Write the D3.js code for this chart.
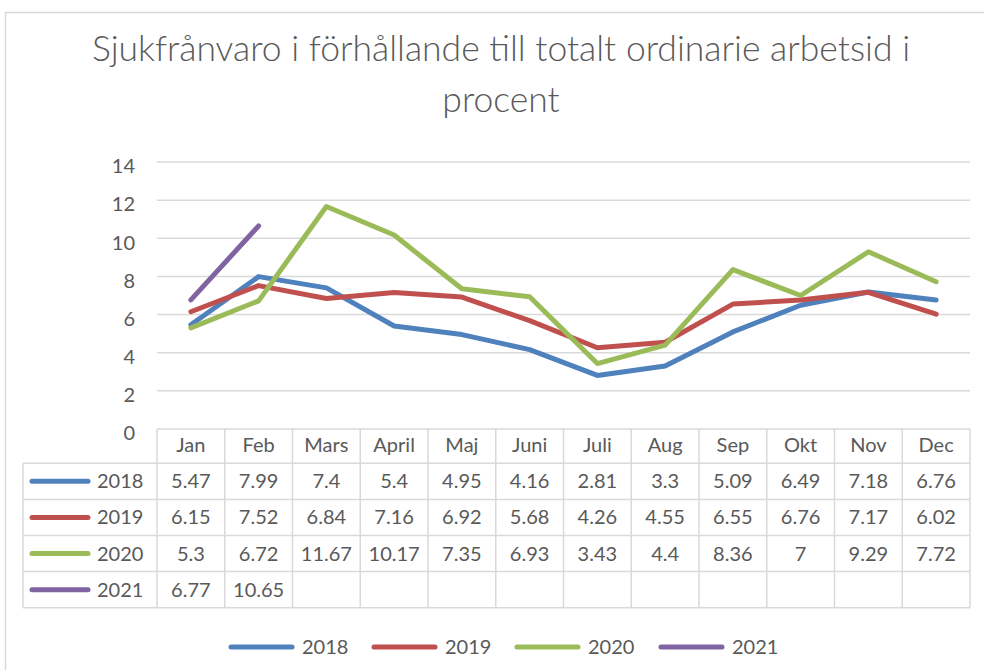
<!DOCTYPE html>
<html><head><meta charset="utf-8">
<script src="https://cdn.jsdelivr.net/npm/d3@7"></script>
<style>body{margin:0;background:#fff}svg{display:block}text{font-family:Lato,"Open Sans",sans-serif;fill:#595959}</style>
</head><body><svg id="c" width="984" height="670"></svg>
<script>
const months = ["Jan","Feb","Mars","April","Maj","Juni","Juli","Aug","Sep","Okt","Nov","Dec"];
const years = ["2018","2019","2020","2021"];
const v2018 = [5.47,7.99,7.4,5.4,4.95,4.16,2.81,3.3,5.09,6.49,7.18,6.76];
const v2019 = [6.15,7.52,6.84,7.16,6.92,5.68,4.26,4.55,6.55,6.76,7.17,6.02];
const v2020 = [5.3,6.72,11.67,10.17,7.35,6.93,3.43,4.4,8.36,7,9.29,7.72];
const v2021 = [6.77,10.65];
const yTicks = [0,2,4,6,8,10,12,14];
const colors = ["#4F81BD","#C0504D","#9BBB59","#8064A2"];
const seriesVals = [v2018,v2019,v2020,v2021];
const titleLines = ["Sjukfrånvaro i förhållande till totalt ordinarie arbetsid i","procent"];

const svg = d3.select("#c");
const grid = "#d9d9d9";
// outer frame
svg.append("rect").attr("x",5.5).attr("y",12.5).attr("width",1100).attr("height",800)
  .attr("fill","none").attr("stroke",grid).attr("stroke-width",1.5);

// title
svg.append("g").selectAll("text").data(titleLines).join("text")
  .attr("x",501).attr("y",(d,i)=>61+i*51).attr("text-anchor","middle")
  .style("font-size","35.5px").style("font-weight",300).text(d=>d);

const x = d3.scaleBand().domain(months).range([157,970]).padding(0);
const y = d3.scaleLinear().domain([0,14]).range([429,162]);
const cx = m => x(m)+x.bandwidth()/2;

// gridlines
svg.append("g").selectAll("line").data(yTicks.filter(t=>t>0)).join("line")
  .attr("x1",157).attr("x2",970).attr("y1",d=>y(d)).attr("y2",d=>y(d))
  .attr("stroke",grid).attr("stroke-width",1.5);

// y axis labels
const yAxis = d3.axisLeft(y).tickValues(yTicks).tickSize(0).tickPadding(0);
const ya = svg.append("g").attr("transform","translate(135,0)").call(yAxis);
ya.select(".domain").remove();
ya.selectAll("text").style("font-size","20px").style("font-family","Lato").attr("fill","#595959")
  .attr("dy","0.54em");

// lines
const line = d3.line().x((d,i)=>cx(months[i])).y(d=>y(d));
svg.append("g").selectAll("path").data(seriesVals).join("path")
  .attr("d",d=>line(d)).attr("fill","none").attr("stroke",(d,i)=>colors[i])
  .attr("stroke-width",5).attr("stroke-linecap","round").attr("stroke-linejoin","round");

// data table
const tTop = 429, hdrH = 34.3, rowH = 36.1, tLeft = 23;
const rowY = i => tTop + hdrH + i*rowH;
const tg = svg.append("g");
const tableBottom = rowY(years.length);
tg.append("line").attr("x1",157).attr("x2",970).attr("y1",tTop).attr("y2",tTop).attr("stroke",grid).attr("stroke-width",1.5);
tg.selectAll(".hl").data(d3.range(years.length+1)).join("line")
  .attr("x1",tLeft).attr("x2",970).attr("y1",d=>rowY(d)).attr("y2",d=>rowY(d)).attr("stroke",grid).attr("stroke-width",1.5);
const colEdges = months.map(m=>x(m)).concat([970]);
tg.selectAll(".vl").data(colEdges).join("line")
  .attr("x1",d=>d).attr("x2",d=>d).attr("y1",tTop).attr("y2",tableBottom).attr("stroke",grid).attr("stroke-width",1.5);
tg.append("line").attr("x1",tLeft).attr("x2",tLeft).attr("y1",rowY(0)).attr("y2",tableBottom).attr("stroke",grid).attr("stroke-width",1.5);
tg.selectAll(".hdr").data(months).join("text").attr("x",d=>cx(d)).attr("y",tTop+hdrH/2-1.5)
  .attr("dy","0.35em").attr("text-anchor","middle").style("font-size","20px").text(d=>d);
years.forEach((yr,i)=>{
  const my = rowY(i)+rowH/2;
  tg.append("line").attr("x1",32).attr("x2",88).attr("y1",my).attr("y2",my)
    .attr("stroke",colors[i]).attr("stroke-width",5).attr("stroke-linecap","round");
  tg.append("text").attr("x",97).attr("y",my).attr("dy","0.35em").style("font-size","20px").text(yr);
  tg.selectAll(".v"+i).data(seriesVals[i]).join("text")
    .attr("x",(d,j)=>cx(months[j])).attr("y",my).attr("dy","0.35em").attr("text-anchor","middle")
    .style("font-size","20px").text(d=>String(d));
});

// bottom legend
const legX = [230,373,516,660];
const lg = svg.append("g");
years.forEach((yr,i)=>{
  lg.append("line").attr("x1",legX[i]+1).attr("x2",legX[i]+62).attr("y1",647).attr("y2",647)
    .attr("stroke",colors[i]).attr("stroke-width",5).attr("stroke-linecap","round");
  lg.append("text").attr("x",legX[i]+72).attr("y",647).attr("dy","0.35em").style("font-size","20px").text(yr);
});
</script></body></html>
